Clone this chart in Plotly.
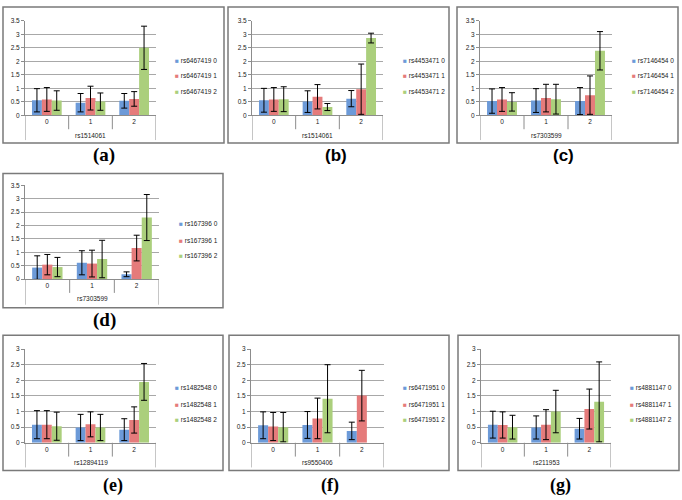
import plotly.graph_objects as go

# ---------------- data ----------------
categories = ["0", "1", "2"]
genotypes = ["0", "1", "2"]
panel_labels = ["(a)", "(b)", "(c)", "(d)", "(e)", "(f)", "(g)"]
snp_series = ["rs6467419", "rs4453471", "rs7146454", "rs167396",
              "rs1482548", "rs6471951", "rs4881147"]
snp_axis = ["rs1514061", "rs1514061", "rs7303599", "rs7303599",
            "rs12894119", "rs9550406", "rs211953"]
y_max = [3.5, 3.5, 3.5, 3.5, 3, 3, 3]

# means[series genotype][category], errs likewise
a_mean = [[0.56, 0.47, 0.54], [0.59, 0.64, 0.61], [0.55, 0.51, 2.50]]
a_err = [[0.43, 0.34, 0.27], [0.44, 0.44, 0.27], [0.36, 0.32, 0.80]]
b_mean = [[0.56, 0.51, 0.62], [0.59, 0.69, 0.97], [0.60, 0.31, 2.86]]
b_err = [[0.44, 0.40, 0.30], [0.44, 0.45, 0.93], [0.46, 0.13, 0.18]]
c_mean = [[0.53, 0.55, 0.53], [0.59, 0.64, 0.75], [0.50, 0.60, 2.39]]
c_err = [[0.45, 0.44, 0.50], [0.44, 0.51, 0.71], [0.34, 0.55, 0.71]]
d_mean = [[0.43, 0.61, 0.18], [0.54, 0.58, 1.16], [0.45, 0.75, 2.30]]
d_err = [[0.44, 0.45, 0.09], [0.38, 0.50, 0.48], [0.36, 0.70, 0.86]]
e_mean = [[0.58, 0.49, 0.42], [0.58, 0.59, 0.73], [0.53, 0.49, 1.95]]
e_err = [[0.45, 0.42, 0.35], [0.45, 0.40, 0.42], [0.45, 0.42, 0.59]]
f_mean = [[0.56, 0.57, 0.38], [0.52, 0.78, 1.51], [0.50, 1.41, None]]
f_err = [[0.43, 0.43, 0.28], [0.45, 0.65, 0.81], [0.47, 1.09, None]]
g_mean = [[0.58, 0.49, 0.45], [0.57, 0.58, 1.08], [0.50, 1.00, 1.31]]
g_err = [[0.43, 0.37, 0.33], [0.42, 0.48, 0.64], [0.38, 0.68, 1.28]]

means = [a_mean, b_mean, c_mean, d_mean, e_mean, f_mean, g_mean]
errs = [a_err, b_err, c_err, d_err, e_err, f_err, g_err]

# ---------------- layout geometry (pixels) ----------------
W, H = 682, 500
colors = ["#6C9AD8", "#E57B7B", "#ABCF7C"]

geom = [
    dict(box=(3, 3, 224, 141), px=(25, 156), py=(17, 113), lx=173, ly=(57, 73, 89), lab=(104, 153)),
    dict(box=(228, 3, 449, 141), px=(252, 383), py=(17, 113), lx=401, ly=(57, 73, 89), lab=(336, 154)),
    dict(box=(457, 3, 678, 141), px=(480, 612), py=(17, 113), lx=630, ly=(57, 73, 89), lab=(563, 154)),
    dict(box=(3, 172, 223, 308), px=(25, 159), py=(184, 279), lx=177, ly=(223, 240, 255), lab=(104, 320)),
    dict(box=(3, 336, 223, 473), px=(25, 156), py=(350, 445), lx=173, ly=(389, 406, 421), lab=(113, 488)),
    dict(box=(229, 336, 449, 473), px=(251, 384), py=(350, 445), lx=401, ly=(389, 406, 421), lab=(330, 488)),
    dict(box=(458, 336, 679, 473), px=(481, 611), py=(350, 445), lx=628, ly=(389, 406, 421), lab=(560, 488)),
]
label_fonts = [
    dict(family="Liberation Serif", size=19, weight="bold"),
    dict(family="Liberation Sans", size=17, weight="bold"),
    dict(family="Liberation Sans", size=17, weight="bold"),
    dict(family="Liberation Serif", size=19, weight="bold"),
    dict(family="Liberation Serif", size=18, weight="bold"),
    dict(family="Liberation Serif", size=18, weight="bold"),
    dict(family="Liberation Serif", size=18, weight="bold"),
]


def fx(x):
    return x / W


def fy(y):
    return 1 - y / H


fig = go.Figure()
shapes = []
annotations = []
axis_col = "#8c8c8c"
tick_font = dict(family="Liberation Sans", size=6.5, color="#222222")

for i in range(7):
    n = i + 1
    g = geom[i]
    xa = "x" if n == 1 else f"x{n}"
    ya = "y" if n == 1 else f"y{n}"
    for s in range(3):
        fig.add_trace(go.Bar(
            x=categories, y=means[i][s],
            error_y=dict(type="data", array=errs[i][s], color="black",
                         thickness=1, width=3),
            marker=dict(color=colors[s], line=dict(width=0)),
            xaxis=xa, yaxis=ya, showlegend=False,
            name=f"{snp_series[i]} {genotypes[s]}",
        ))
    fig.update_layout(**{
        ("xaxis" if n == 1 else f"xaxis{n}"): dict(
            domain=[fx(g["px"][0]), fx(g["px"][1])], anchor=ya,
            type="category", range=[-0.5, 2.5], showline=True,
            linecolor=axis_col, linewidth=1, ticks="", showgrid=False,
            tickfont=tick_font, fixedrange=True),
        ("yaxis" if n == 1 else f"yaxis{n}"): dict(
            domain=[fy(g["py"][1]), fy(g["py"][0])], anchor=xa,
            range=[0, y_max[i]], dtick=0.5, showgrid=True,
            gridcolor="#a8a8a8", gridwidth=1, showline=True,
            linecolor=axis_col, linewidth=1, ticks="outside", ticklen=3,
            tickcolor=axis_col, tickfont=tick_font, zeroline=False,
            fixedrange=True),
    })
    bx0, by0, bx1, by1 = g["box"]
    shapes.append(dict(type="rect", xref="paper", yref="paper",
                       x0=fx(bx0), x1=fx(bx1), y0=fy(by0), y1=fy(by1),
                       line=dict(color="#7a7a7a", width=1.5)))
    y0 = g["py"][1]
    for xv in (0.5, 1.5):
        shapes.append(dict(type="line", xref=xa, yref="paper",
                           x0=xv, x1=xv, y0=fy(y0), y1=fy(y0 + 14),
                           line=dict(color=axis_col, width=1)))
    for xv in (-0.5, 2.5):
        shapes.append(dict(type="line", xref=xa, yref="paper",
                           x0=xv, x1=xv, y0=fy(y0), y1=fy(by1 - 3),
                           line=dict(color=axis_col, width=1)))
    annotations.append(dict(text=snp_axis[i], xref=xa, yref="paper",
                            x=1, y=fy(y0 + 20), showarrow=False,
                            xanchor="center", yanchor="middle",
                            font=tick_font))
    for s in range(3):
        annotations.append(dict(
            text=f'<span style="color:{colors[s]}">■</span> {snp_series[i]} {genotypes[s]}',
            xref="paper", yref="paper", x=fx(g["lx"]), y=fy(g["ly"][s]),
            showarrow=False, xanchor="left", yanchor="middle",
            font=dict(family="Liberation Sans", size=6.5, color="#222222")))
    annotations.append(dict(text=panel_labels[i], xref="paper", yref="paper",
                            x=fx(g["lab"][0]), y=fy(g["lab"][1]),
                            showarrow=False, xanchor="center", yanchor="middle",
                            font=dict(color="black", **label_fonts[i])))

fig.update_layout(
    width=W, height=H, autosize=False,
    margin=dict(l=0, r=0, t=0, b=0),
    paper_bgcolor="white", plot_bgcolor="white",
    barmode="group", bargap=0.32, bargroupgap=0,
    shapes=shapes, annotations=annotations,
    showlegend=False,
)

fig.write_html("out.html", config={"displayModeBar": False},
               post_script="document.body.style.margin='0';document.body.style.overflow='hidden';")
